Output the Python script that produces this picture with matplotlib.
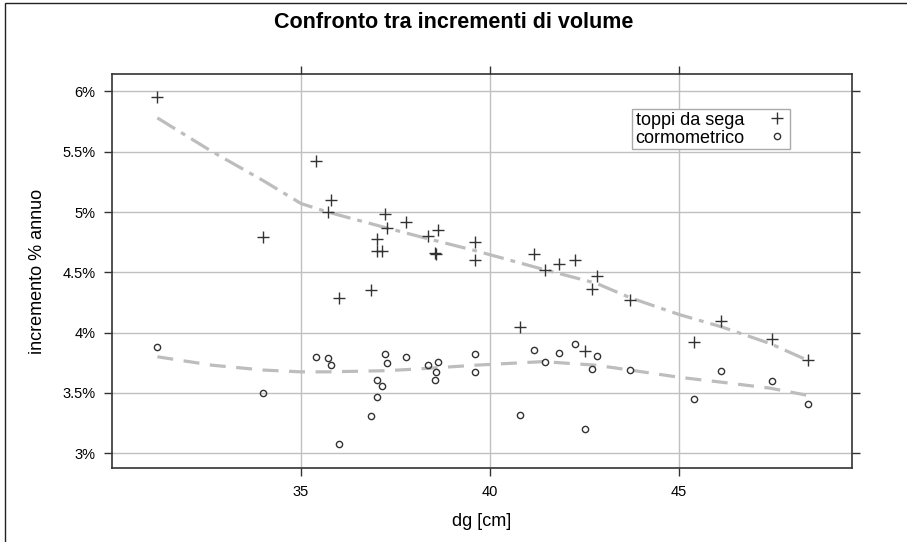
import matplotlib
matplotlib.use("Agg")
import matplotlib.pyplot as plt
from matplotlib.patches import Rectangle

plt.rcParams['font.family'] = ['Liberation Sans', 'DejaVu Sans']

# diametro medio (cm), una coppia di misure per ogni diametro
dg = [31.2, 34.0, 35.4, 35.7, 35.8, 36.0, 36.85, 37.0, 37.02, 37.13,
      37.23, 37.26, 37.77, 38.37, 38.53, 38.57, 38.63, 39.6, 39.6, 40.8,
      41.15, 41.45, 41.83, 42.25, 42.5, 42.7, 42.82, 43.7, 45.4, 46.1,
      47.45, 48.4]
toppi = [5.95, 4.79, 5.42, 5.0, 5.1, 4.29, 4.35, 4.78, 4.68, 4.68,
         4.98, 4.87, 4.92, 4.80, 4.66, 4.65, 4.85, 4.75, 4.60, 4.05,
         4.65, 4.52, 4.57, 4.60, 3.85, 4.36, 4.47, 4.27, 3.92, 4.10,
         3.95, 3.77]
cormo = [3.88, 3.50, 3.80, 3.79, 3.73, 3.08, 3.31, 3.61, 3.47, 3.56,
         3.82, 3.75, 3.80, 3.73, 3.61, 3.67, 3.76, 3.82, 3.67, 3.32,
         3.86, 3.76, 3.83, 3.91, 3.20, 3.70, 3.81, 3.69, 3.45, 3.68,
         3.60, 3.41]

# curve di tendenza
trend_x = [31.2, 32.65, 34.0, 35.0, 35.7, 37.3, 38.4, 39.6, 41.4, 42.8,
           43.7, 45.0, 46.1, 47.4, 48.4]
trend_toppi = [5.78, 5.50, 5.26, 5.07, 5.0, 4.865, 4.775, 4.68, 4.525, 4.41,
               4.29, 4.15, 4.05, 3.91, 3.77]
trend_cormo = [3.80, 3.73, 3.69, 3.675, 3.675, 3.685, 3.705, 3.73, 3.76, 3.73,
               3.69, 3.63, 3.59, 3.54, 3.48]

xticks = [35, 40, 45]
yticks = [3, 3.5, 4, 4.5, 5, 5.5, 6]

fig = plt.figure(figsize=(9.07, 5.42), dpi=100)
ax = fig.add_axes([112/907, 1-468/542, 740/907, 394/542])

fig.add_artist(Rectangle((5/907, -0.1), 1.2, 1-3/542+0.1, transform=fig.transFigure,
                         fill=False, edgecolor='#222222', linewidth=1.0))

ax.grid(True, color='#c0c0c0', linewidth=1.0)
ax.set_axisbelow(True)

ax.plot(trend_x, trend_toppi, color='#bdbdbd', linewidth=2.3,
        linestyle=(0, (6.5, 2.2, 1.5, 2.2)), zorder=2)
ax.plot(trend_x, trend_cormo, color='#bdbdbd', linewidth=2.3,
        linestyle=(0, (5, 3.3)), zorder=2)

ax.plot(dg, toppi, linestyle='none', marker='+', markersize=8,
        markeredgewidth=1.0, color='#333333', label='toppi da sega', zorder=3)
ax.plot(dg, cormo, linestyle='none', marker='o', markersize=4.5,
        markerfacecolor='none', markeredgewidth=1.0, color='#333333',
        label='cormometrico', zorder=3)

ax.set_xlim(30.0, 49.57)
ax.set_ylim(2.878, 6.144)
ax.set_xticks(xticks)
ax.set_xticklabels([str(t) for t in xticks])
ax.set_yticks(yticks)
ax.set_yticklabels(['%g%%' % t for t in yticks])
ax.tick_params(direction='out', length=6, width=1.0, color='#333333',
               labelsize=10.5, pad=6, top=True, right=True)

for s in ax.spines.values():
    s.set_color('#333333')
    s.set_linewidth(1.2)

ax.set_xlabel('dg [cm]', fontsize=13, labelpad=10)
ax.set_ylabel('incremento % annuo', fontsize=13, labelpad=12)
fig.text(0.5, 1-22/542, 'Confronto tra incrementi di volume', ha='center',
         va='center', fontsize=15.5, fontweight='bold')

leg = ax.legend(loc='upper left', bbox_to_anchor=(0.703, 0.911), borderaxespad=0,
                fontsize=13, markerfirst=False, fancybox=False, framealpha=1,
                edgecolor='#aaaaaa', labelspacing=0.05, borderpad=0.15,
                handlelength=1.2, handletextpad=1.2)
leg.get_frame().set_linewidth(1.0)

fig.savefig('out.png', dpi=100)
